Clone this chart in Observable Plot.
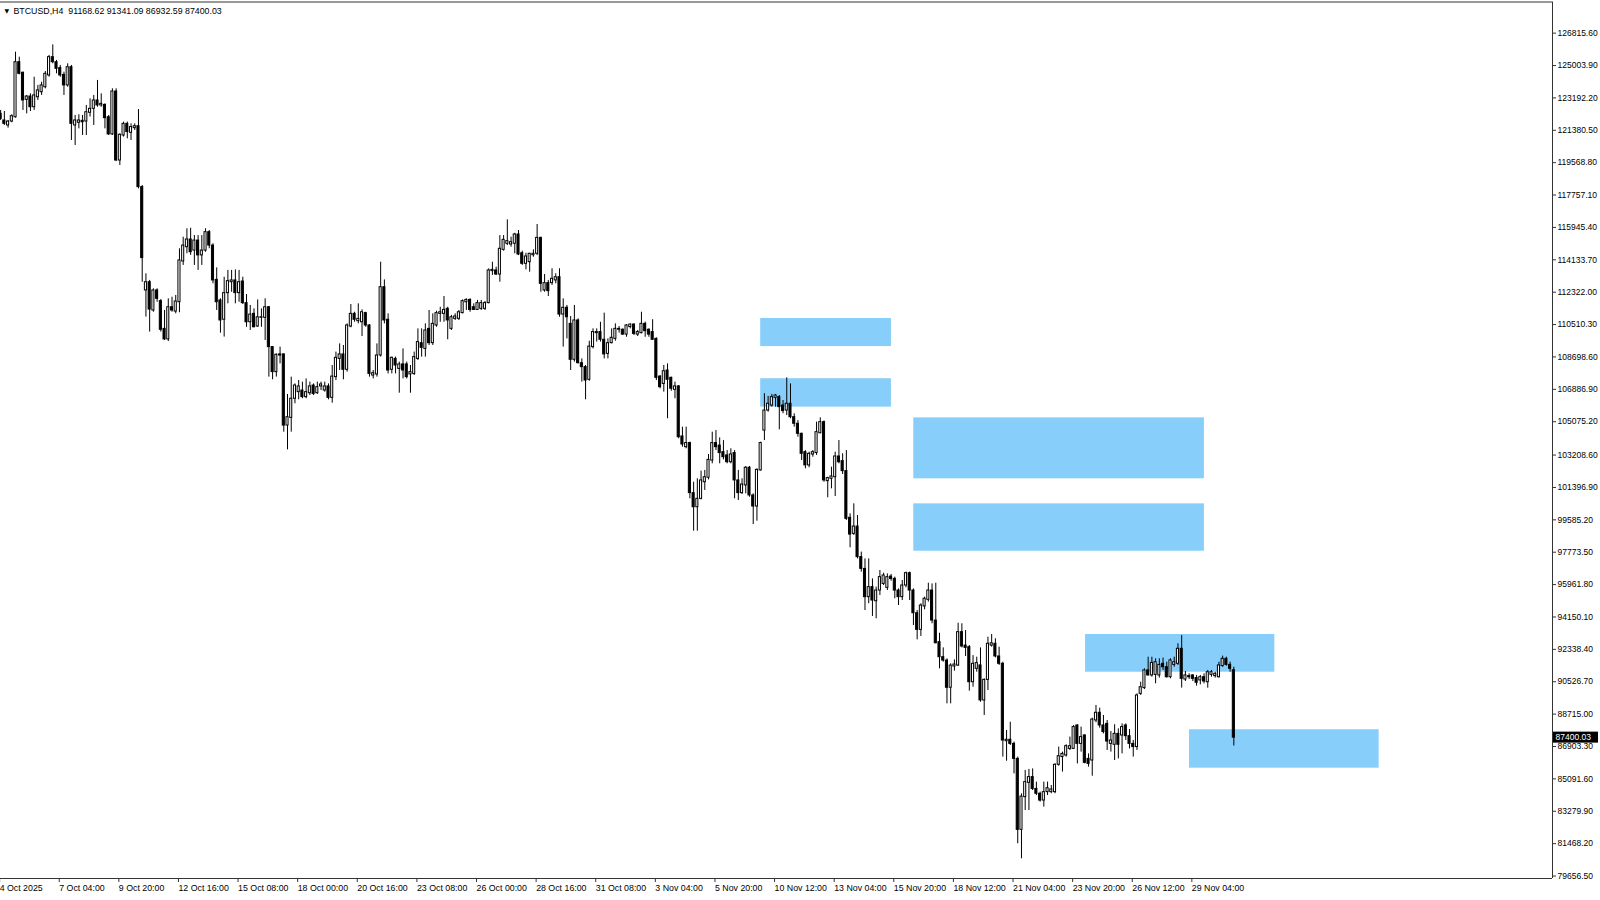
<!DOCTYPE html>
<html><head><meta charset="utf-8">
<script src="https://cdn.jsdelivr.net/npm/d3@7"></script>
<script src="https://cdn.jsdelivr.net/npm/@observablehq/plot@0.6"></script>
<style>
html,body{margin:0;padding:0;background:#fff;}
#chart{width:1600px;height:900px;overflow:hidden;}
</style></head><body><div id="chart"></div>
<script>
const symbol = "BTCUSD,H4";
const firstBar = 1;
const opens = [
122300,121930,121650,121870,122110,125190,124600,123080,123270,122670,
123230,123510,123790,124450,125470,125190,124860,124480,123890,124910,
121650,121800,121910,121870,122360,122580,123050,122770,122800,122110,
121150,123550,119690,121090,121740,121240,121500,121610,118200,112420,
112880,111300,112420,111820,110270,109680,111480,111240,111760,114040,
114840,115270,114650,115210,114380,114650,115680,114930,113010,111860,
110780,112270,112880,112980,112270,112920,111710,110640,111110,110400,
110890,110890,111480,109250,107850,108840,108840,104860,105290,106360,
106730,106820,106450,106670,107100,106670,107050,106820,107050,106410,
107570,108590,108840,107980,110400,111110,110700,110640,111150,110460,
107660,107720,108780,112600,110780,107980,108590,108030,108280,108280,
107720,107750,108590,109470,109150,110270,109470,110460,111110,111110,
111390,110270,110830,110830,111150,111760,111890,111480,111330,111390,
111390,111710,113500,113540,113310,114690,115030,114990,115030,115550,
114500,113910,114000,114390,114470,115360,112420,112830,112830,112980,
113160,111070,111450,110550,108540,110740,108350,108130,107420,109250,
110030,110090,109660,108870,109470,109710,110220,110220,109950,110370,
110510,109950,110030,110550,110220,110090,109710,107600,107190,107940,
107530,106860,107050,104250,103650,103880,101080,100290,100760,101690,
101940,102900,103880,103740,103370,103190,102810,103320,101790,101080,
101510,102500,100950,100330,102350,104580,105700,105980,106410,106450,
105980,105700,106080,105330,104960,104400,103370,102630,103240,103320,
104430,105050,101750,101880,101970,103130,102870,102310,99700,98800,
99210,97500,96840,95260,95820,95030,95630,96000,95780,96410,
96280,95630,95260,95910,96600,95630,94360,93430,94740,95110,
95630,93950,92740,91900,91710,90190,91380,91430,93300,92550,
92460,90500,91250,91440,89480,90630,92550,92650,91940,91530,
87200,87280,87050,86210,82240,84070,84870,85190,84530,84260,
83880,84350,84350,84350,85880,86310,86400,86770,86770,88080,
87050,87520,86210,86120,88360,88790,88080,88170,87050,87000,
87610,87520,88080,87480,87050,86870,89850,90170,91160,90880,
90910,90880,91530,91340,90780,91470,91530,92370,90650,90840,
90880,90730,90600,90780,90500,90910,90840,90780,91400,91810,
91470,91168.62];
const highs = [
122490,122430,121930,122250,125750,125470,124630,123330,123420,124350,
123890,124070,124670,125570,126160,125290,125010,124630,125100,125010,
122210,122250,122210,122770,123140,123330,124170,123420,122860,122210,
123700,123700,121180,121840,121840,121740,121740,122540,118290,113350,
112980,112510,112510,111910,111300,111950,112040,112140,114750,115400,
115870,115900,115490,115490,115490,115870,115770,115030,113680,111950,
113160,113540,113540,113570,113540,113160,112190,111580,111390,111890,
111390,111950,111520,109280,108870,109250,108870,106600,107570,107190,
107380,107290,107470,107290,107190,107290,107290,107290,107190,108220,
108970,109430,109340,110550,111630,111200,111670,111330,111200,110510,
107940,109430,114000,113010,111110,108690,108690,108410,109150,108410,
108220,108970,110270,110270,110550,111300,111110,111260,111480,112080,
111480,111020,111110,111300,111890,111950,111950,111670,111860,111860,
111800,113630,114000,113720,115490,115490,116370,115400,115620,115770,
114620,114500,114500,114690,116110,115400,113310,112980,113630,113350,
113630,111950,111580,110960,111580,110830,108590,108220,109580,110270,
110270,110640,111150,109710,110270,110550,110400,110270,110510,110550,
110550,110180,111200,110650,110270,110780,109770,107660,108220,108310,
107570,107290,107100,104770,104770,103930,101690,101880,102310,102350,
103240,104490,104580,104170,104020,103460,103560,103460,102350,101880,
102570,102570,101040,102440,103930,106640,106490,106600,106600,106540,
106260,107530,107190,105520,105140,104430,103460,103370,103460,105050,
105290,105110,101970,102530,103370,104020,103280,103460,99920,100480,
99830,97780,97400,97400,96280,95820,96750,96600,96560,96530,
96380,95720,96190,96660,96660,95720,94510,94890,95260,96040,
96000,96040,93240,92420,91810,91530,91750,93800,93770,93390,
92550,91990,91900,92420,90690,93020,93170,92930,92460,91620,
87800,88260,87150,86310,84250,85560,85620,85650,84910,84350,
84910,84910,84720,85930,86870,86590,87000,87430,88080,88120,
87990,87560,86490,88490,89200,89050,88640,88360,87740,88120,
87890,88170,88170,87850,87240,89850,90500,91250,91900,91900,
91810,91810,91850,91620,91810,91900,92650,93110,91100,90970,
90910,90880,90880,90970,91160,91160,91060,91620,91960,91900,
91620,91341.09];
const lows = [
121930,121650,121500,121800,122060,124480,122490,122300,122430,122490,
123050,123330,123700,124350,125100,124540,124350,123330,123790,120810,
120530,121460,121090,121090,122120,121650,122670,122670,121460,121090,
121090,119630,119410,121000,120900,120810,121370,118100,112880,110930,
110090,111200,111760,110090,109620,109560,111200,111110,111170,113820,
114470,114380,113820,113540,113820,114560,114750,112790,111300,110030,
109810,111670,112320,111670,111760,111630,110360,110180,110330,110360,
110360,109620,107570,107420,107570,108310,104490,103500,104490,106080,
106300,106360,106360,106540,106540,106600,106820,106730,106300,106110,
107380,107940,107420,107850,110330,110640,110550,109840,110360,107570,
107470,107570,108690,110550,107750,107750,107750,106670,107470,107470,
106670,107660,108500,108690,108690,109340,109340,110360,110640,110640,
109660,110180,110740,110740,111110,111300,111200,111300,111300,111300,
111300,111670,113260,113260,112880,114620,114930,114840,114470,114370,
113820,113570,113440,114280,114370,112320,112320,112080,112700,112790,
110920,109250,109710,107940,108410,108310,107290,106300,107340,109150,
109530,109530,108590,108590,109430,109580,110030,109900,109800,110270,
109900,109840,109990,109800,109800,109620,107380,106910,106730,105240,
106780,106360,104120,103650,103560,100760,98950,98950,100700,101230,
101820,102720,103460,102720,102940,102720,102720,100760,100670,101000,
101040,100850,99320,99510,102310,104020,105610,105890,105890,104620,
105520,105420,105240,104770,104210,102900,102440,102500,103090,103190,
104400,101690,100820,101320,100890,102720,102120,99550,98020,98710,
97400,96660,94510,94890,94180,94050,95350,95910,95630,96150,
95170,94790,95070,95780,95070,93670,92870,93060,94550,94980,
93770,92650,91250,91620,89290,89290,91120,91380,92420,91940,
90000,90220,91060,89380,88640,90040,92460,91860,91440,86310,
86080,86960,85370,81460,80620,83320,83320,84440,84160,83790,
83510,84160,84260,84260,85800,85470,86310,86680,86740,85930,
86590,85930,85750,85240,88230,87930,87610,86680,86590,86120,
86210,86490,87240,86770,86310,86680,89760,90090,90840,90780,
90410,90730,91160,90730,90690,91340,91440,90170,90540,90650,
90540,90280,90350,90410,90170,90780,90730,90730,91340,91400,
91060,86932.59];
const closes = [
122020,121740,121870,122170,125190,124540,123050,123270,122670,123330,
123610,123890,124540,125470,125190,124820,124450,123890,124910,121740,
121930,121930,121830,122390,122580,123050,122770,122860,122060,121150,
123550,119690,121130,121740,121280,121560,121610,118200,114230,112880,
111350,112420,111950,110220,109680,111480,111300,111800,114100,114930,
115270,114560,115210,114380,114650,115680,114930,112980,111760,110740,
112270,112940,112980,112270,112880,111710,110640,111070,110360,110920,
110920,111480,109250,107850,108820,108780,104860,105330,106360,107100,
107050,106450,106730,107050,106630,107010,107160,107050,106410,107600,
108650,108840,107980,110460,111110,110780,110830,111200,110460,107750,
107790,108780,112600,110740,107940,108650,108220,108280,107940,107570,
107850,108690,109530,109210,110180,109470,110550,111150,111200,111330,
110740,110920,110960,111200,111820,111890,111330,111330,111710,111710,
111710,113540,113570,113310,114750,115250,115180,115120,115550,114430,
113910,114320,114470,114470,115360,112790,112830,112380,113070,113160,
111070,111450,110920,108540,110740,108350,108130,107380,109280,110090,
110090,109660,108840,109470,109770,110270,110270,109950,110460,110510,
109990,110090,110550,110140,109950,109660,107530,107010,107900,107420,
106920,107050,104210,103800,103880,101080,100290,100760,101790,101970,
102940,103880,103650,103320,103090,102810,103240,101790,101080,101560,
102500,100950,100330,102380,103880,105700,106080,106450,106540,105890,
105670,106080,105330,104960,104400,103280,102630,103280,103370,104490,
105050,101790,101920,102010,103130,102810,102310,99640,98760,99210,
97500,96840,95260,95820,95070,95630,96380,96470,96380,96280,
95630,95260,95910,96600,95630,94360,93430,94790,95170,95630,
93950,92680,91900,91710,90190,91430,91490,93300,92500,92420,
90500,91530,91570,89480,90630,92650,92680,91940,91530,87240,
87280,87050,86210,82240,84100,84910,85190,84530,84260,83880,
84350,84570,84500,85880,86360,86490,86920,86920,87990,87050,
87430,85990,85930,88410,88790,88080,87710,87180,87240,87610,
87000,87990,87480,87050,86870,89760,90220,91160,90880,91580,
91620,91470,91340,90780,91720,91620,92370,90690,90880,90780,
90690,90470,90780,90540,91060,91060,90970,91440,91810,91470,
91250,87400.03];

// date labels every 16 bars, starting at the first bar
const barsPerDateTick = 16;
const dateTickLabels = ["4 Oct 2025","7 Oct 04:00","9 Oct 20:00","12 Oct 16:00","15 Oct 08:00",
  "18 Oct 00:00","20 Oct 16:00","23 Oct 08:00","26 Oct 00:00","28 Oct 16:00","31 Oct 08:00",
  "3 Nov 04:00","5 Nov 20:00","10 Nov 12:00","13 Nov 04:00","15 Nov 20:00","18 Nov 12:00",
  "21 Nov 04:00","23 Nov 20:00","26 Nov 12:00","29 Nov 04:00"];
const priceTicks = [126815.60,125003.90,123192.20,121380.50,119568.80,117757.10,115945.40,
  114133.70,112322.00,110510.30,108698.60,106886.90,105075.20,103208.60,101396.90,99585.20,
  97773.50,95961.80,94150.10,92338.40,90526.70,88715.00,86903.30,85091.60,83279.90,81468.20,79656.50];

// zones (bar index range, price range)
const zoneStartBar = [205.0, 205.0, 246.1, 246.1, 292.2, 320.1];
const zoneEndBar   = [240.1, 240.1, 324.1, 324.1, 343.0, 371.0];
const zoneHigh = [110850, 107480, 105290, 100480, 93170, 87840];
const zoneLow  = [109280, 105890, 101880, 97830, 91060, 85690];

// visible window
const xDomain = [0.966, 417.53];
const yDomain = [79518, 128558];

const bars = opens.map((o, k) => ({i: firstBar + k, o, h: highs[k], l: lows[k], c: closes[k]}));
const bulls = bars.filter(d => d.c >= d.o);
const bears = bars.filter(d => d.c < d.o);
const zones = zoneStartBar.map((s, k) => ({s, e: zoneEndBar[k], t: zoneHigh[k], b: zoneLow[k]}));
const dateTicks = dateTickLabels.map((_, k) => firstBar + k * barsPerDateTick);
const dateLabelOf = new Map(dateTicks.map((t, k) => [t, dateTickLabels[k]]));
const last = bars[bars.length - 1];
const header = symbol + "\u00a0\u00a0" + [last.o, last.h, last.l, last.c].map(v => v.toFixed(2)).join(" ");

const W = 1600, H = 900, MR = 48;
const FONT = "'Liberation Sans', Arial, sans-serif";
const half = 0.28;

const chart = Plot.plot({
  width: W, height: H,
  marginLeft: 0, marginRight: MR, marginTop: 1.5, marginBottom: 22,
  x: {type: "linear", domain: xDomain, axis: null},
  y: {type: "linear", domain: yDomain, axis: null},
  style: {fontFamily: FONT, fontSize: "8.5px", background: "#fff", color: "#000", overflow: "visible"},
  marks: [
    Plot.rect(zones, {x1: "s", x2: "e", y1: "b", y2: "t", fill: "#87CEFA", clip: true}),
    Plot.ruleX(bars, {x: "i", y1: "l", y2: "h", stroke: "#000", strokeWidth: 1, clip: true}),
    Plot.rect(bears, {x1: d => d.i - half, x2: d => d.i + half, y1: "c", y2: "o", fill: "#000", stroke: "#000", strokeWidth: 1, clip: true}),
    Plot.rect(bulls, {x1: d => d.i - half, x2: d => d.i + half, y1: "o", y2: "c", fill: "#fff", stroke: "#000", strokeWidth: 1, clip: true}),
    Plot.ruleY([yDomain[1]], {stroke: "#333"}),
    Plot.ruleY([yDomain[0]], {stroke: "#333"}),
    Plot.ruleX([xDomain[1]], {stroke: "#333"}),
    Plot.axisY(priceTicks, {anchor: "right", tickSize: 3, tickPadding: 2, tickFormat: d => d.toFixed(2), fontSize: 8.5, stroke: "#333"}),
    Plot.axisX(dateTicks, {anchor: "bottom", tickSize: 4, tickPadding: 2, tickFormat: d => dateLabelOf.get(d), textAnchor: "start", dx: -1, fontSize: 8.8, stroke: "#333"}),
    Plot.text(["\u25BC"], {frameAnchor: "top-left", dx: 4, dy: 8.7, textAnchor: "start", lineAnchor: "middle", fontSize: 6, fontFamily: "'DejaVu Sans', sans-serif"}),
    Plot.text([header], {frameAnchor: "top-left", dx: 13, dy: 8.7, textAnchor: "start", lineAnchor: "middle", fontSize: 8.8})
  ]
});

// current price marker on the price scale
const ys = chart.scale("y");
const py = ys.apply(last.c);
const svg = d3.select(chart);
const g = svg.append("g").attr("text-anchor", "start");
g.append("rect").attr("x", W - MR + 1).attr("y", py - 5.5).attr("width", 45).attr("height", 11).attr("fill", "#000");
g.append("text").attr("x", W - MR + 3.5).attr("y", py).attr("dy", "0.35em").attr("text-anchor", "start")
  .attr("fill", "#fff").attr("font-family", FONT).attr("font-size", 8.5).text(last.c.toFixed(2));

document.getElementById("chart").appendChild(chart);
</script></body></html>
